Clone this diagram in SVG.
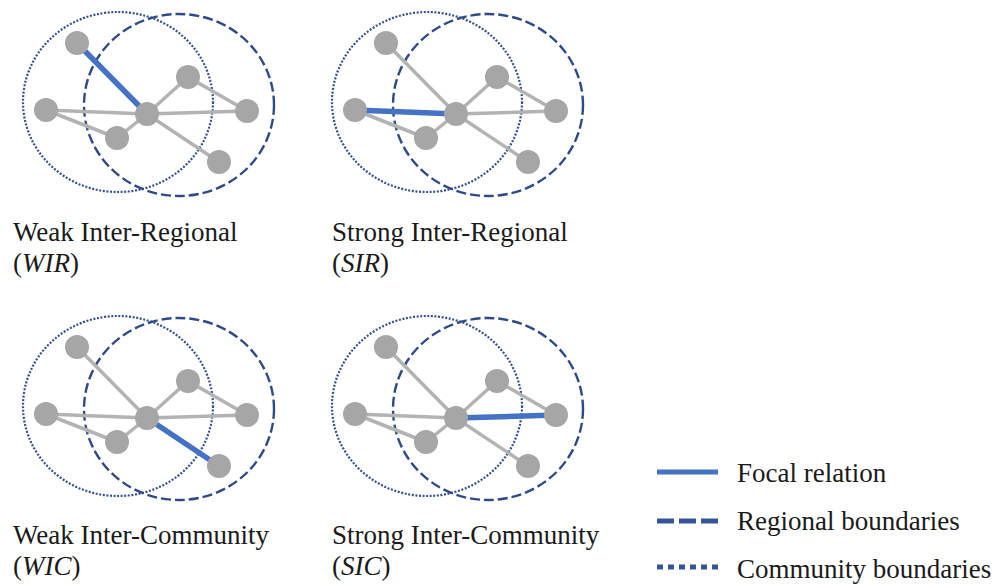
<svg xmlns="http://www.w3.org/2000/svg" width="995" height="585" viewBox="0 0 995 585">
<style>
.comm{fill:none;stroke:#34508f;stroke-width:2.2;stroke-dasharray:2 1.6}
.reg{fill:none;stroke:#2f4b86;stroke-width:2.4;stroke-dasharray:10 4}
.edge{stroke:#b3b3b3;stroke-width:3.5;stroke-linecap:round}
.focal{stroke:#4472c4;stroke-width:5.5;stroke-linecap:butt}
.node{fill:#a6a6a6}
.lbl{font-family:"Liberation Serif","Times New Roman",serif;font-size:27px;fill:#1a1a1a}
.lg-focal{stroke:#4472c4;stroke-width:5;fill:none}
.lg-reg{stroke:#34559a;stroke-width:5;fill:none;stroke-dasharray:17 5}
.lg-comm{stroke:#34559a;stroke-width:5;fill:none;stroke-dasharray:6 5}
</style>

<!-- Panel 1: WIR -->
<g id="panel-wir">
  <ellipse class="comm" cx="118" cy="102" rx="95" ry="90"/>
  <ellipse class="reg" cx="179" cy="105" rx="95" ry="91"/>
  <g id="wir-connectors">
    <line class="edge" x1="46" y1="110" x2="147" y2="114"/>
    <line class="edge" x1="46" y1="110" x2="117" y2="138"/>
    <line class="edge" x1="117" y1="138" x2="147" y2="114"/>
    <line class="edge" x1="147" y1="114" x2="188" y2="77"/>
    <line class="edge" x1="188" y1="77" x2="247" y2="111"/>
    <line class="edge" x1="147" y1="114" x2="247" y2="111"/>
    <line class="edge" x1="147" y1="114" x2="219" y2="162"/>
    <line class="focal" x1="77" y1="43" x2="147" y2="114"/>
  </g>
  <g id="wir-n1"><circle class="node" cx="77" cy="43" r="12"/></g>
  <g id="wir-n2"><circle class="node" cx="46" cy="110" r="12"/></g>
  <g id="wir-n3"><circle class="node" cx="147" cy="114" r="12"/></g>
  <g id="wir-n4"><circle class="node" cx="117" cy="138" r="12"/></g>
  <g id="wir-n5"><circle class="node" cx="188" cy="77" r="12"/></g>
  <g id="wir-n6"><circle class="node" cx="247" cy="111" r="12"/></g>
  <g id="wir-n7"><circle class="node" cx="219" cy="162" r="12"/></g>
</g>
<text class="lbl" x="13" y="241">Weak Inter-Regional</text>
<text class="lbl" x="13" y="272">(<tspan font-style="italic">WIR</tspan>)</text>

<!-- Panel 2: SIR -->
<g id="panel-sir" transform="translate(309,0)">
  <ellipse class="comm" cx="118" cy="102" rx="95" ry="90"/>
  <ellipse class="reg" cx="179" cy="105" rx="95" ry="91"/>
  <g id="sir-connectors">
    <line class="edge" x1="77" y1="43" x2="147" y2="114"/>
    <line class="edge" x1="46" y1="110" x2="117" y2="138"/>
    <line class="edge" x1="117" y1="138" x2="147" y2="114"/>
    <line class="edge" x1="147" y1="114" x2="188" y2="77"/>
    <line class="edge" x1="188" y1="77" x2="247" y2="111"/>
    <line class="edge" x1="147" y1="114" x2="247" y2="111"/>
    <line class="edge" x1="147" y1="114" x2="219" y2="162"/>
    <line class="focal" x1="46" y1="110" x2="147" y2="114"/>
  </g>
  <g id="sir-n1"><circle class="node" cx="77" cy="43" r="12"/></g>
  <g id="sir-n2"><circle class="node" cx="46" cy="110" r="12"/></g>
  <g id="sir-n3"><circle class="node" cx="147" cy="114" r="12"/></g>
  <g id="sir-n4"><circle class="node" cx="117" cy="138" r="12"/></g>
  <g id="sir-n5"><circle class="node" cx="188" cy="77" r="12"/></g>
  <g id="sir-n6"><circle class="node" cx="247" cy="111" r="12"/></g>
  <g id="sir-n7"><circle class="node" cx="219" cy="162" r="12"/></g>
</g>
<text class="lbl" x="332" y="241">Strong Inter-Regional</text>
<text class="lbl" x="332" y="272">(<tspan font-style="italic">SIR</tspan>)</text>

<!-- Panel 3: WIC -->
<g id="panel-wic" transform="translate(0,304)">
  <ellipse class="comm" cx="118" cy="102" rx="95" ry="90"/>
  <ellipse class="reg" cx="179" cy="105" rx="95" ry="91"/>
  <g id="wic-connectors">
    <line class="edge" x1="77" y1="43" x2="147" y2="114"/>
    <line class="edge" x1="46" y1="110" x2="147" y2="114"/>
    <line class="edge" x1="46" y1="110" x2="117" y2="138"/>
    <line class="edge" x1="117" y1="138" x2="147" y2="114"/>
    <line class="edge" x1="147" y1="114" x2="188" y2="77"/>
    <line class="edge" x1="188" y1="77" x2="247" y2="111"/>
    <line class="edge" x1="147" y1="114" x2="247" y2="111"/>
    <line class="focal" x1="147" y1="114" x2="219" y2="162"/>
  </g>
  <g id="wic-n1"><circle class="node" cx="77" cy="43" r="12"/></g>
  <g id="wic-n2"><circle class="node" cx="46" cy="110" r="12"/></g>
  <g id="wic-n3"><circle class="node" cx="147" cy="114" r="12"/></g>
  <g id="wic-n4"><circle class="node" cx="117" cy="138" r="12"/></g>
  <g id="wic-n5"><circle class="node" cx="188" cy="77" r="12"/></g>
  <g id="wic-n6"><circle class="node" cx="247" cy="111" r="12"/></g>
  <g id="wic-n7"><circle class="node" cx="219" cy="162" r="12"/></g>
</g>
<text class="lbl" x="13" y="544">Weak Inter-Community</text>
<text class="lbl" x="13" y="575">(<tspan font-style="italic">WIC</tspan>)</text>

<!-- Panel 4: SIC -->
<g id="panel-sic" transform="translate(309,304)">
  <ellipse class="comm" cx="118" cy="102" rx="95" ry="90"/>
  <ellipse class="reg" cx="179" cy="105" rx="95" ry="91"/>
  <g id="sic-connectors">
    <line class="edge" x1="77" y1="43" x2="147" y2="114"/>
    <line class="edge" x1="46" y1="110" x2="147" y2="114"/>
    <line class="edge" x1="46" y1="110" x2="117" y2="138"/>
    <line class="edge" x1="117" y1="138" x2="147" y2="114"/>
    <line class="edge" x1="147" y1="114" x2="188" y2="77"/>
    <line class="edge" x1="188" y1="77" x2="247" y2="111"/>
    <line class="edge" x1="147" y1="114" x2="219" y2="162"/>
    <line class="focal" x1="147" y1="114" x2="247" y2="111"/>
  </g>
  <g id="sic-n1"><circle class="node" cx="77" cy="43" r="12"/></g>
  <g id="sic-n2"><circle class="node" cx="46" cy="110" r="12"/></g>
  <g id="sic-n3"><circle class="node" cx="147" cy="114" r="12"/></g>
  <g id="sic-n4"><circle class="node" cx="117" cy="138" r="12"/></g>
  <g id="sic-n5"><circle class="node" cx="188" cy="77" r="12"/></g>
  <g id="sic-n6"><circle class="node" cx="247" cy="111" r="12"/></g>
  <g id="sic-n7"><circle class="node" cx="219" cy="162" r="12"/></g>
</g>
<text class="lbl" x="332" y="544">Strong Inter-Community</text>
<text class="lbl" x="332" y="575">(<tspan font-style="italic">SIC</tspan>)</text>

<!-- Legend -->
<g id="legend">
  <line class="lg-focal" x1="657" y1="472" x2="718" y2="472"/>
  <text class="lbl" x="737" y="482">Focal relation</text>
  <line class="lg-reg" x1="657" y1="521" x2="718" y2="521"/>
  <text class="lbl" x="737" y="530">Regional boundaries</text>
  <line class="lg-comm" x1="657" y1="567" x2="718" y2="567"/>
  <text class="lbl" x="737" y="578">Community boundaries</text>
</g>
</svg>
